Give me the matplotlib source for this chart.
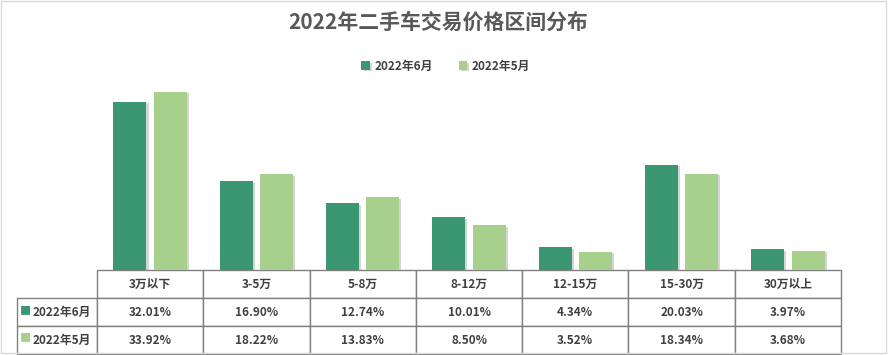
import matplotlib.pyplot as plt
import matplotlib.patheffects as pe
from matplotlib.patches import Rectangle

plt.rcParams['font.family'] = ['Noto Sans CJK SC', 'DejaVu Sans']

categories = ['3万以下', '3-5万', '5-8万', '8-12万', '12-15万', '15-30万', '30万以上']
jun = [32.01, 16.90, 12.74, 10.01, 4.34, 20.03, 3.97]
may = [33.92, 18.22, 13.83, 8.50, 3.52, 18.34, 3.68]
series_names = ['2022年6月', '2022年5月']
colors = ['#3B9672', '#A8D08D']
text_col = '#404040'

W, H = 888, 355
fig = plt.figure(figsize=(W / 100, H / 100), dpi=100)
# axes placed in pixel terms: x 97..841, y 80..270 (from top)
ax = fig.add_axes([97 / W, (H - 270) / H, 744 / W, 190 / H])

x = list(range(len(categories)))
shadow = [pe.SimplePatchShadow(offset=(1.5, -1), shadow_rgbFace='#888888', alpha=0.35), pe.Normal()]
b1 = ax.bar([i - 0.19 for i in x], jun, width=0.31, color=colors[0], path_effects=shadow)
b2 = ax.bar([i + 0.19 for i in x], may, width=0.31, color=colors[1], path_effects=shadow)
ax.set_xlim(-0.5, len(categories) - 0.5)
ax.set_ylim(0, 36.2)
ax.axis('off')

# data table under the bars (bbox covers the data columns, row labels hang left)
cell_text = [['%.2f%%' % v for v in jun], ['%.2f%%' % v for v in may]]
tbl = ax.table(cellText=cell_text, rowLabels=series_names, colLabels=categories,
               cellLoc='center', rowLoc='left',
               bbox=[0, -(354 - 270) / 190, 1, (354 - 270) / 190])
tbl._autoColumns = []
tbl.auto_set_font_size(False)
for (r, c), cell in tbl.get_celld().items():
    cell.set_edgecolor('#808080')
    cell.set_linewidth(1)
    cell.get_text().set_fontsize(8.5)
    cell.get_text().set_fontweight('bold')
    cell.get_text().set_color(text_col)
    if c == -1:
        cell.set_width(80 / 744)
        cell.PAD = 0.2

# colour keys in the row labels
for k, yy in enumerate([311, 338]):
    ax.text((25 - 97) / 744, -(yy - 270) / 190, '■', transform=ax.transAxes,
            color=colors[k], fontsize=8, ha='center', va='center')

fig.text(0.493, 1 - 22 / H, '2022年二手车交易价格区间分布', ha='center', va='center',
         fontsize=15, fontweight='bold', color='#595959')

fig.legend([b1, b2], series_names, loc='center', bbox_to_anchor=(0.502, 1 - 66 / H),
           ncol=2, frameon=False, handlelength=0.7, handleheight=0.7, handletextpad=0.4,
           columnspacing=2.2, prop={'size': 8.5, 'weight': 'bold'}, labelcolor=text_col)

fig.patches.append(Rectangle((1 / W, 2 / H), (W - 3) / W, (H - 3) / H, transform=fig.transFigure,
                             fill=False, edgecolor='#D9D9D9', linewidth=1))

fig.savefig('out.png', dpi=100)
